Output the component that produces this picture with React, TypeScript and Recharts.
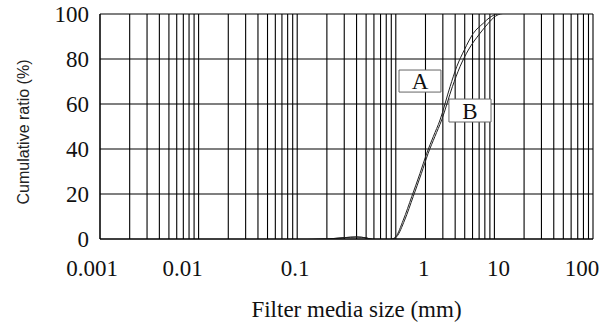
import { LineChart, Line, XAxis, YAxis, CartesianGrid, ReferenceArea, Label } from 'recharts';

// particle size (mm) vs cumulative passing (%)
const SIZE_A = [0.01, 0.02, 0.05, 0.1, 0.2, 0.3, 0.4, 0.5, 0.6, 0.8, 0.92, 1.0, 1.19, 1.45, 1.76, 2.06, 2.4, 2.81, 3.55, 4.15, 4.95, 6.11, 7.72, 9.0, 10.8, 18, 37];
const PASS_A = [-1.2, -1.0, -0.6, -0.3, 0, 0.6, 0.9, 0.5, -0.3, -0.5, 0, 1.0, 8.4, 18.8, 29.2, 38.1, 45.5, 52.9, 67.7, 76.6, 84, 91.4, 95.9, 98.5, 100, 101, 100.5];

const SIZE_B = [0.01, 0.02, 0.05, 0.1, 0.2, 0.3, 0.4, 0.5, 0.6, 0.8, 0.94, 1.02, 1.23, 1.5, 1.82, 2.13, 2.49, 2.92, 3.75, 4.48, 5.44, 7.14, 8.67, 9.9, 11.5, 18, 37];
const PASS_B = [-1.2, -1.0, -0.6, -0.3, 0, 0.6, 0.9, 0.5, -0.3, -0.5, 0, 1.0, 8.4, 18.8, 29.2, 38.1, 45.5, 52.9, 67.7, 76.6, 84, 91.4, 95.9, 98.5, 100, 101, 100.5];

const MAJOR_X = [0.001, 0.01, 0.1, 1, 10, 100];
const X_LABELS = ['0.001', '0.01', '0.1', '1', '10', '100'];
const Y_TICKS = [0, 20, 40, 60, 80, 100];

// label shifts as placed in the original figure
const X_LABEL_DX = [-8, -16, -2, 28, 4, -11];

const GRID_X: number[] = [];
for (let k = -3; k <= 1; k++) {
  for (let d = 1; d <= 9; d++) GRID_X.push(parseFloat((d * 10 ** k).toPrecision(3)));
}
GRID_X.push(100);

const dataA = SIZE_A.map((x, i) => ({ x, y: PASS_A[i] }));
const dataB = SIZE_B.map((x, i) => ({ x, y: PASS_B[i] }));

const SERIF = '"Liberation Serif", "Times New Roman", serif';

function XTick(props: any) {
  const { x, y, payload } = props;
  const i = MAJOR_X.indexOf(payload.value);
  if (i < 0) return <g />;
  return (
    <text x={x + X_LABEL_DX[i]} y={y} dy="0.71em" textAnchor="middle" fill="#111" fontSize={23} fontFamily={SERIF}>
      {X_LABELS[i]}
    </text>
  );
}

function YTick(props: any) {
  const { x, y, payload } = props;
  return (
    <text x={x} y={y} dy="0.36em" textAnchor="end" fill="#111" fontSize={23} fontFamily={SERIF}>
      {payload.value}
    </text>
  );
}

export default function App() {
  return (
    <div style={{ position: 'absolute', left: 0, top: 0, background: '#fff' }}>
      <LineChart width={610} height={323} margin={{ top: 14, right: 17, left: 0, bottom: 0 }}>
        <CartesianGrid stroke="#000" strokeWidth={1.1} />
        <XAxis
          dataKey="x"
          type="number"
          scale="log"
          domain={[0.001, 100]}
          allowDataOverflow
          ticks={GRID_X}
          interval={0}
          tickLine={false}
          tickSize={0}
          tickMargin={21}
          tick={<XTick />}
          axisLine={{ stroke: '#000' }}
          height={84}
        >
          <Label
            content={(p: any) => {
              const vb = p.viewBox;
              return (
                <text x={vb.x + vb.width / 2 + 10} y={317} textAnchor="middle" fill="#111" fontSize={23} fontFamily={SERIF}>
                  Filter media size (mm)
                </text>
              );
            }}
          />
        </XAxis>
        <YAxis
          type="number"
          domain={[0, 100]}
          allowDataOverflow
          ticks={Y_TICKS}
          tickLine={false}
          tickSize={0}
          tickMargin={11}
          axisLine={{ stroke: '#000' }}
          tick={<YTick />}
          width={100}
        >
          <Label
            content={() => (
              <text
                x={29}
                y={132}
                transform="rotate(-90 29 132)"
                textAnchor="middle"
                fill="#222"
                fontSize={16}
                fontFamily='"Liberation Sans", Arial, sans-serif'
              >
                Cumulative ratio (%)
              </text>
            )}
          />
        </YAxis>
        <Line data={dataA} dataKey="y" type="monotone" stroke="#222" strokeWidth={1} dot={false} isAnimationActive={false} />
        <Line data={dataB} dataKey="y" type="monotone" stroke="#222" strokeWidth={1} dot={false} isAnimationActive={false} />
        <ReferenceArea
          x1={1.078}
          x2={2.87}
          y1={65.3}
          y2={75.1}
          fill="#fff"
          fillOpacity={1}
          stroke="#666"
          strokeWidth={1}
          label={{ value: 'A', fill: '#111', fontSize: 23, fontFamily: SERIF }}
        />
        <ReferenceArea
          x1={3.46}
          x2={9.24}
          y1={52}
          y2={62.2}
          fill="#fff"
          fillOpacity={1}
          stroke="#666"
          strokeWidth={1}
          label={{ value: 'B', fill: '#111', fontSize: 23, fontFamily: SERIF }}
        />
      </LineChart>
    </div>
  );
}
